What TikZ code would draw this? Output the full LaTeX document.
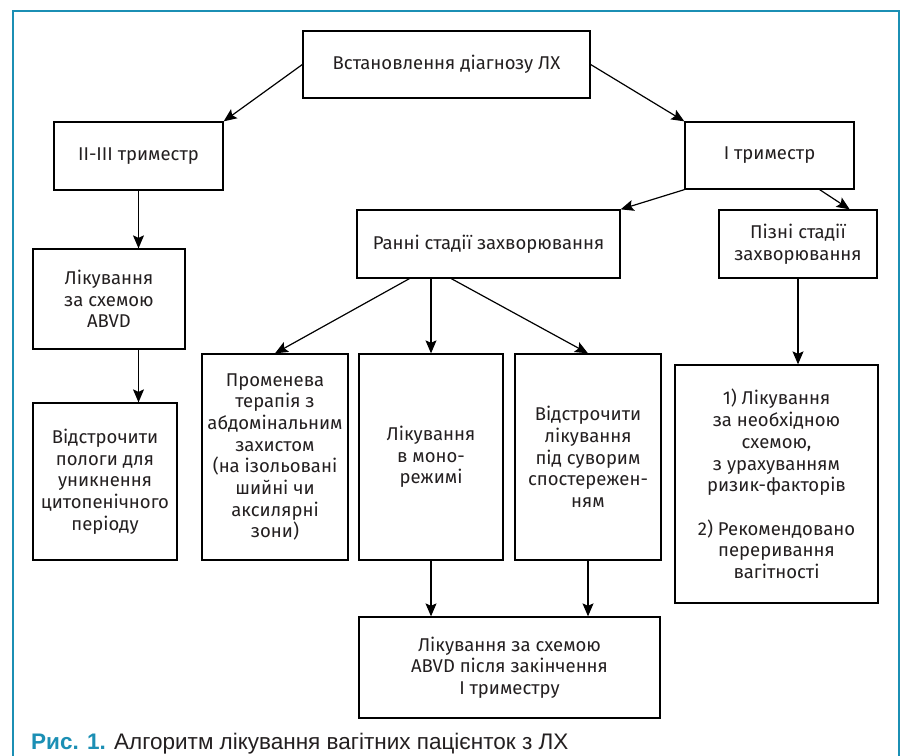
\documentclass[tikz,border=0pt]{standalone}
\usepackage{fontspec}
\usepackage{graphicx}
\usetikzlibrary{arrows.meta,calc}
\newfontfamily\boxfont{Fira Sans}
\newfontfamily\capfont{Liberation Sans}
\definecolor{framecol}{HTML}{1B8FB4}
\definecolor{textcol}{HTML}{231F20}
\begin{document}
\begin{tikzpicture}[x=1pt,y=-1pt,
  flowbox/.style={draw=black, line width=1.3pt, inner sep=0pt, align=center,
    text=textcol, font={\boxfont\fontsize{18.5}{21.7}\selectfont}},
  conn/.style={line width=1.2pt, -{Stealth[length=13pt,width=11pt,inset=2.5pt]}}
]
\useasboundingbox (0,0) rectangle (901,755);
\fill[white] (0,0) rectangle (901,755);
% frame
\draw[framecol, line width=2.4pt] (13,756) -- (13,11) -- (899,11) -- (899,756);

% boxes
\node[flowbox, minimum width=287pt, minimum height=67pt] (top) at (446.5,64.5) {Встановлення діагнозу ЛХ};
\node[flowbox, minimum width=169pt, minimum height=68pt] (t23) at (138.5,156) {II-III триместр};
\node[flowbox, minimum width=169pt, minimum height=67pt] (t1) at (769.5,155.5) {І триместр};
\node[flowbox, minimum width=263pt, minimum height=68pt] (early) at (488.5,244) {Ранні стадії захворювання};
\node[flowbox, minimum width=158pt, minimum height=68pt] (late) at (798,244) {Пізні стадії\\захворювання};
\node[flowbox, minimum width=152pt, minimum height=100pt] (abvd) at (109,299) {Лікування\\за схемою\\ABVD};
\node[flowbox, minimum width=144pt, minimum height=157pt] (delay) at (105,481.5) {Відстрочити\\пологи для\\уникнення\\цитопенічного\\періоду};
\node[flowbox, minimum width=146pt, minimum height=206pt] (radio) at (275,457) {Променева\\терапія з\\абдомінальним\\захистом\\(на ізольовані\\шийні чи\\аксилярні\\зони)};
\node[flowbox, minimum width=144pt, minimum height=206pt] (mono) at (431,457) {Лікування\\в моно-\\режимі};
\node[flowbox, minimum width=146pt, minimum height=206pt] (watch) at (588,457) {Відстрочити\\лікування\\під суворим\\спостережен-\\ням};
\node[flowbox, minimum width=203pt, minimum height=238pt] (latebox) at (776.5,484) {1) Лікування\\за необхідною\\схемою,\\з урахуванням\\ризик-факторів\\[21.7pt]2) Рекомендовано\\переривання\\вагітності};
\node[flowbox, minimum width=301pt, minimum height=101pt] (after) at (509.5,667.5) {Лікування за схемою\\ABVD після закінчення\\І триместру};

% connectors
\draw[conn] (top.west) -- (t23.north east);
\draw[conn] (top.east) -- (t1.north west);
\draw[conn] (t23.south) -- (t23.south |- abvd.north);
\draw[conn] (t23.south |- abvd.south) -- (t23.south |- delay.north);
\draw[conn] (t1.south west) -- (early.north east);
\draw[conn] ([xshift=-35pt]t1.south east) -- ([xshift=-28pt]late.north east);
\draw[conn] ([xshift=53pt]early.south west) -- (radio.north);
\draw[conn] (early.south -| mono.north) -- (mono.north);
\draw[conn] ([xshift=95pt]early.south west) -- (watch.north);
\draw[conn] (late.south) -- (late.south |- latebox.north);
\draw[conn] (mono.south) -- (mono.south |- after.north);
\draw[conn] (watch.south) -- (watch.south |- after.north);

% caption
\node[anchor=base west, inner sep=0pt, font={\capfont\fontsize{22.5}{26}\selectfont}] (cap) at (31,749.5)
  {\textcolor{framecol}{\bfseries Рис. 1.} \textcolor{textcol}{Алгоритм лікування вагітних пацієнток з ЛХ}};
\end{tikzpicture}
\end{document}
